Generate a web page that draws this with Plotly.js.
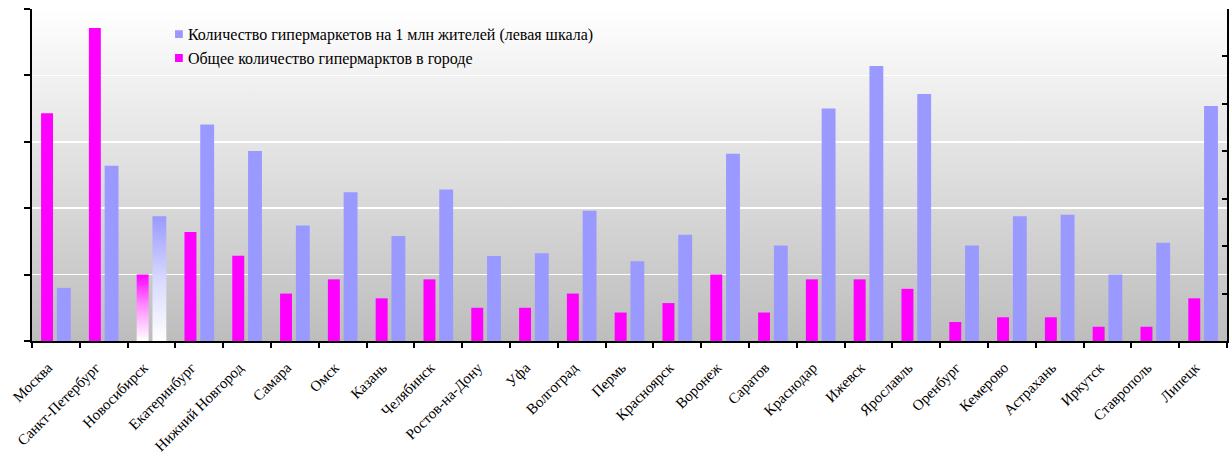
<!DOCTYPE html>
<html>
<head>
<meta charset="utf-8">
<script src="https://cdn.plot.ly/plotly-3.0.1.min.js"></script>
<style>
  html, body { margin: 0; padding: 0; background: #ffffff; }
  #chart { width: 1229px; height: 459px; }
</style>
</head>
<body>
<div id="chart"></div>
<script>
const cities = ["Москва", "Санкт-Петербург", "Новосибирск", "Екатеринбург", "Нижний Новгород", "Самара", "Омск", "Казань", "Челябинск", "Ростов-на-Дону", "Уфа", "Волгоград", "Пермь", "Красноярск", "Воронеж", "Саратов", "Краснодар", "Ижевск", "Ярославль", "Оренбург", "Кемерово", "Астрахань", "Иркутск", "Ставрополь", "Липецк"];

const perMillion = [4.0, 13.2, 9.4, 16.3, 14.3, 8.7, 11.2, 7.9, 11.4, 6.4, 6.6, 9.8, 6.0, 8.0, 14.1, 7.2, 17.5, 20.7, 18.6, 7.2, 9.4, 9.5, 5.0, 7.4, 17.7];

const totalCount = [48, 66, 14, 23, 18, 10, 13, 9, 13, 7, 7, 10, 6, 8, 14, 6, 13, 13, 11, 4, 5, 5, 3, 3, 9];

const seriesNames = ["Количество гипермаркетов на 1 млн жителей (левая шкала)", "Общее количество гипермарктов в городе"];

const highlightIndex = 2;

const blueColor = "#9999ff";
const pinkColor = "#ff00ff";
const serif = "'Liberation Serif', 'Times New Roman', serif";

const traces = [
  {
    type: "bar", name: seriesNames[0], x: cities, y: perMillion,
    yaxis: "y", marker: { color: blueColor, line: { width: 0 } },
    width: 0.29, offset: 0.02, hoverinfo: "x+y"
  },
  {
    type: "bar", name: seriesNames[1], x: cities, y: totalCount,
    yaxis: "y2", marker: { color: pinkColor, line: { width: 0 } },
    width: 0.25, offset: -0.31, hoverinfo: "x+y"
  }
];

const bgSvg = '<svg xmlns="http://www.w3.org/2000/svg" width="100" height="100" preserveAspectRatio="none">' +
  '<defs><linearGradient id="g" x1="0" y1="0" x2="0" y2="1">' +
  '<stop offset="0" stop-color="#ffffff"/><stop offset="1" stop-color="#bdbdbd"/>' +
  '</linearGradient></defs><rect width="100" height="100" fill="url(#g)"/></svg>';

const layout = {
  width: 1229, height: 459,
  margin: { l: 32, r: 2, t: 9, b: 118 },
  paper_bgcolor: "#ffffff",
  plot_bgcolor: "rgba(0,0,0,0)",
  font: { family: serif, size: 13, color: "#000000" },
  barmode: "overlay",
  showlegend: true,
  legend: {
    x: 0.097, y: 0.975, xanchor: "left", yanchor: "top",
    bgcolor: "rgba(0,0,0,0)", font: { family: serif, size: 16, color: "#000" },
    tracegroupgap: 0, itemwidth: 30
  },
  images: [{
    source: "data:image/svg+xml;charset=utf-8," + encodeURIComponent(bgSvg),
    xref: "paper", yref: "paper", x: 0, y: 1, sizex: 1, sizey: 1,
    xanchor: "left", yanchor: "top", sizing: "stretch", layer: "below"
  }],
  xaxis: {
    type: "category",
    tickangle: -45,
    tickson: "boundaries",
    ticks: "outside", ticklen: 5, tickwidth: 2, tickcolor: "#000",
    ticklabelstandoff: 8,
    showline: true, linecolor: "#000", linewidth: 2,
    showgrid: false, zeroline: false,
    tickfont: { family: serif, size: 15, color: "#000" }
  },
  yaxis: {
    range: [0, 25], dtick: 5, tick0: 0,
    showticklabels: false,
    ticks: "outside", ticklen: 6, tickwidth: 2, tickcolor: "#000",
    showline: true, linecolor: "#000", linewidth: 2,
    showgrid: true, gridcolor: "#ffffff", gridwidth: 1.5,
    zeroline: false
  },
  yaxis2: {
    overlaying: "y", side: "right",
    range: [0, 70], dtick: 10, tick0: 0,
    showticklabels: false,
    ticks: "inside", ticklen: 5, tickwidth: 2, tickcolor: "#000",
    showline: true, linecolor: "#000", linewidth: 2,
    showgrid: false, zeroline: false
  }
};

function prependTransform(el, t) {
  const old = el.getAttribute("transform") || "";
  el.setAttribute("transform", (t + " " + old).trim());
}
function appendTransform(el, t) {
  const old = el.getAttribute("transform") || "";
  el.setAttribute("transform", (old + " " + t).trim());
}

const gd = document.getElementById("chart");
Plotly.newPlot(gd, traces, layout, { displayModeBar: false, staticPlot: true }).then(function () {
  const svg = gd.querySelector("svg.main-svg");
  const ns = "http://www.w3.org/2000/svg";
  let defs = svg.querySelector("defs");
  if (!defs) { defs = document.createElementNS(ns, "defs"); svg.insertBefore(defs, svg.firstChild); }
  function addGrad(id, color, midColor, mid) {
    const lg = document.createElementNS(ns, "linearGradient");
    lg.setAttribute("id", id);
    lg.setAttribute("x1", "0"); lg.setAttribute("y1", "0");
    lg.setAttribute("x2", "0"); lg.setAttribute("y2", "1");
    [[0, color], [mid, midColor], [1, "#ffffff"]].forEach(function (s) {
      const st = document.createElementNS(ns, "stop");
      st.setAttribute("offset", String(s[0]));
      st.setAttribute("stop-color", s[1]);
      lg.appendChild(st);
    });
    defs.appendChild(lg);
  }
  addGrad("gradBlue", blueColor, "#d8d8ff", 0.5);
  addGrad("gradPink", pinkColor, "#ff88ff", 0.45);
  const barTraces = gd.querySelectorAll(".barlayer .trace");
  const gradIds = ["gradBlue", "gradPink"];
  barTraces.forEach(function (tr, i) {
    const pts = tr.querySelectorAll(".point path");
    if (pts[highlightIndex]) pts[highlightIndex].style.fill = "url(#" + gradIds[i] + ")";
  });
  // smaller legend swatches, closer to the text
  gd.querySelectorAll(".legend .legendpoints path").forEach(function (p) {
    appendTransform(p, "translate(11,0) scale(0.65)");
  });
  // nudge rotated category labels slightly left/down, like the reference
  gd.querySelectorAll(".xaxislayer-above .xtick text").forEach(function (t) {
    prependTransform(t, "translate(-8,2)");
  });
});
</script>
</body>
</html>
